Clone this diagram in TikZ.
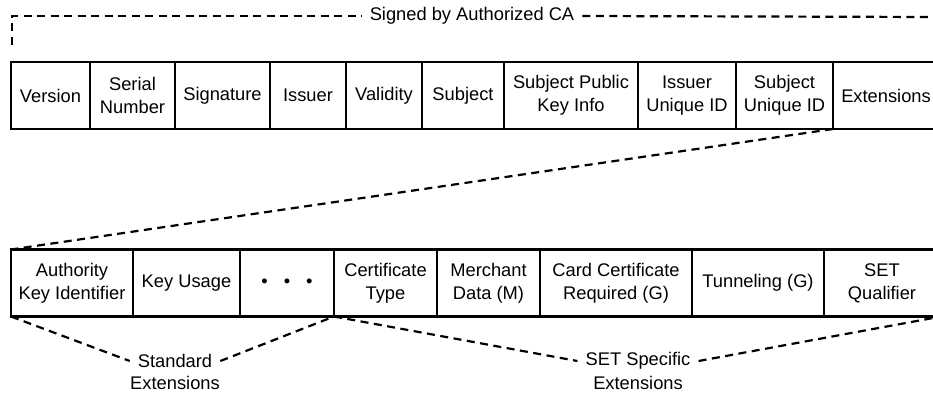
\documentclass[tikz,border=0pt]{standalone}
\usepackage{fontspec}
\setmainfont{Liberation Sans}
\begin{document}
\begin{tikzpicture}[x=1pt,y=-1pt,
  cell/.style={draw, line width=2.3pt, rectangle, minimum height=67pt,
    inner sep=0pt, outer sep=0pt, align=center, anchor=west,
    font=\fontsize{18.3}{23}\selectfont},
  lbl/.style={inner xsep=8pt, inner ysep=0pt, align=center,
    font=\fontsize{18.3}{23}\selectfont},
  dsh/.style={line width=2.2pt, dash pattern=on 8pt off 5.5pt}]
\useasboundingbox (0,0) rectangle (933,393);
\clip (0,0) rectangle (933,393);

% certificate fields
\node[cell, minimum width=79pt]  (ver) at (11,95.5) {Version};
\node[cell, minimum width=85pt]  (ser) at (ver.east) {Serial\\Number};
\node[cell, minimum width=95pt]  (sig) at (ser.east) {Signature};
\node[cell, minimum width=76pt]  (iss) at (sig.east) {Issuer};
\node[cell, minimum width=76pt]  (val) at (iss.east) {Validity};
\node[cell, minimum width=82pt]  (sub) at (val.east) {Subject};
\node[cell, minimum width=134pt] (spk) at (sub.east) {Subject Public\\Key Info};
\node[cell, minimum width=98pt]  (iui) at (spk.east) {Issuer\\Unique ID};
\node[cell, minimum width=97pt]  (sui) at (iui.east) {Subject\\Unique ID};
\node[cell, minimum width=106pt] (ext) at (sui.east) {Extensions};

% extension fields
\node[cell, minimum width=122pt] (aki) at (11,283) {Authority\\Key Identifier};
\node[cell, minimum width=107pt] (ku)  at (aki.east) {Key Usage};
\node[cell, minimum width=94pt]  (dots) at (ku.east) {•\hspace{16pt}•\hspace{16pt}•};
\node[cell, minimum width=103pt] (ct)  at (dots.east) {Certificate\\Type};
\node[cell, minimum width=103pt] (md)  at (ct.east) {Merchant\\Data (M)};
\node[cell, minimum width=152pt] (ccr) at (md.east) {Card Certificate\\Required (G)};
\node[cell, minimum width=132pt] (tun) at (ccr.east) {Tunneling (G)};
\node[cell, minimum width=116pt] (setq) at (tun.east) {SET\\Qualifier};

% signature bracket
\coordinate (sgstart) at (12,45);
\coordinate (sgend) at (933,17);
\node[lbl] (signed) at (472,16) {Signed by Authorized CA};
\draw[dsh] (sgstart) |- (signed.west);
\draw[dsh] (signed.east) -- (sgend);

% expansion of the Extensions field
\draw[dsh] (sui.south east) -- (aki.north west);

% group labels
\node[lbl] (std)  at (175,361) {Standard};
\node[lbl] (stdx) at (175,383) {Extensions};
\node[lbl] (sets)  at (638,361) {SET Specific};
\node[lbl] (setsx) at (638,383) {Extensions};
\coordinate (setend) at (933,318);

\draw[dsh] (aki.south west) -- (std.west);
\draw[dsh] (std.east) -- (dots.south east);
\draw[dsh] (ct.south west) -- (sets.west);
\draw[dsh] (sets.east) -- (setend);
\end{tikzpicture}
\end{document}
